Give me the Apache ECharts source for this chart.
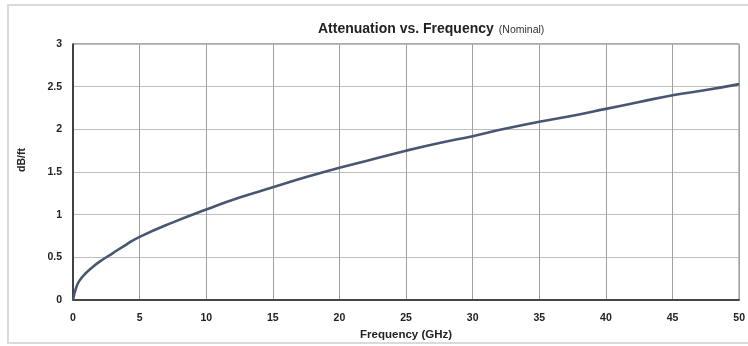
<!DOCTYPE html>
<html>
<head>
<meta charset="utf-8">
<script src="https://cdn.jsdelivr.net/npm/echarts@6/dist/echarts.min.js"></script>
<style>
  html, body { margin: 0; padding: 0; background: #fff; }
  #main { width: 748px; height: 346px; }
</style>
</head>
<body>
<div id="main"></div>
<script>
// frequency (GHz) and attenuation (dB/ft)
var freq = [0, 0.25, 0.5, 1, 1.5, 2, 3, 4, 5, 7.5, 10, 12.5, 15, 17.5, 20, 22.5, 25,
  27.5, 30, 32.5, 35, 37.5, 40, 42.5, 45, 47.5, 50];
var atten = [0, 0.15, 0.23, 0.32, 0.39, 0.45, 0.55, 0.65, 0.74, 0.91, 1.06, 1.20, 1.32,
  1.44, 1.55, 1.65, 1.75, 1.84, 1.92, 2.01, 2.09, 2.16, 2.24, 2.32, 2.40, 2.46, 2.53];
var titleMain = "Attenuation vs. Frequency";
var titleSub = "(Nominal)";

(function(){
  var myChart = echarts.init(document.getElementById('main'));
  var pts = freq.map(function (f, i) { return [f, atten[i]]; });
  var fontFam = "'Liberation Sans', Arial, sans-serif";

  var option = {
    animation: false,
    textStyle: { fontFamily: fontFam },
    graphic: [
      {
        type: 'rect',
        shape: { x: 8, y: 5, width: 760, height: 338 },
        style: { fill: 'none', stroke: '#dadada', lineWidth: 2 },
        silent: true
      }
    ],
    title: {
      text: '{a|' + titleMain + '} {b|' + titleSub + '}',
      left: 313,
      top: 13,
      textStyle: {
        fontWeight: 'normal',
        rich: {
          a: { fontSize: 14, fontWeight: 'bold', color: '#222', fontFamily: fontFam,
               lineHeight: 18, verticalAlign: 'bottom' },
          b: { fontSize: 10.5, fontWeight: 'normal', color: '#333', fontFamily: fontFam,
               lineHeight: 18, verticalAlign: 'bottom' }
        }
      }
    },
    grid: {
      left: 73,
      right: 6,
      top: 44,
      bottom: 44,
      show: true,
      borderColor: '#555',
      borderWidth: 1
    },
    xAxis: {
      type: 'value',
      min: 0,
      max: 50,
      interval: 5,
      name: 'Frequency (GHz)',
      nameLocation: 'middle',
      nameGap: 29,
      nameTextStyle: { fontSize: 11.5, fontWeight: 'bold', color: '#222' },
      axisLine: { show: true, lineStyle: { color: '#222', width: 1.5 } },
      axisTick: { show: false },
      axisLabel: { fontSize: 10.5, fontWeight: 'bold', color: '#222', margin: 13 },
      splitLine: { show: true, lineStyle: { color: '#a0a0a0', width: 1 } }
    },
    yAxis: {
      type: 'value',
      min: 0,
      max: 3,
      interval: 0.5,
      name: 'dB/ft',
      nameLocation: 'middle',
      nameGap: 45,
      nameTextStyle: { fontSize: 10.5, fontWeight: 'bold', color: '#222', padding: [0, 0, 0, 24] },
      axisLine: { show: true, lineStyle: { color: '#222', width: 1.5 } },
      axisTick: { show: false },
      axisLabel: { fontSize: 10.5, fontWeight: 'bold', color: '#222', margin: 11 },
      splitLine: { show: true, lineStyle: { color: '#bdbdbd', width: 1 } }
    },
    series: [
      {
        type: 'line',
        data: pts,
        smooth: true,
        showSymbol: false,
        symbol: 'none',
        lineStyle: { color: '#485771', width: 2.6 }
      }
    ]
  };
  myChart.setOption(option);
  window.addEventListener("resize", function() {
    myChart.resize();
  });
})();
</script>
</body>
</html>
